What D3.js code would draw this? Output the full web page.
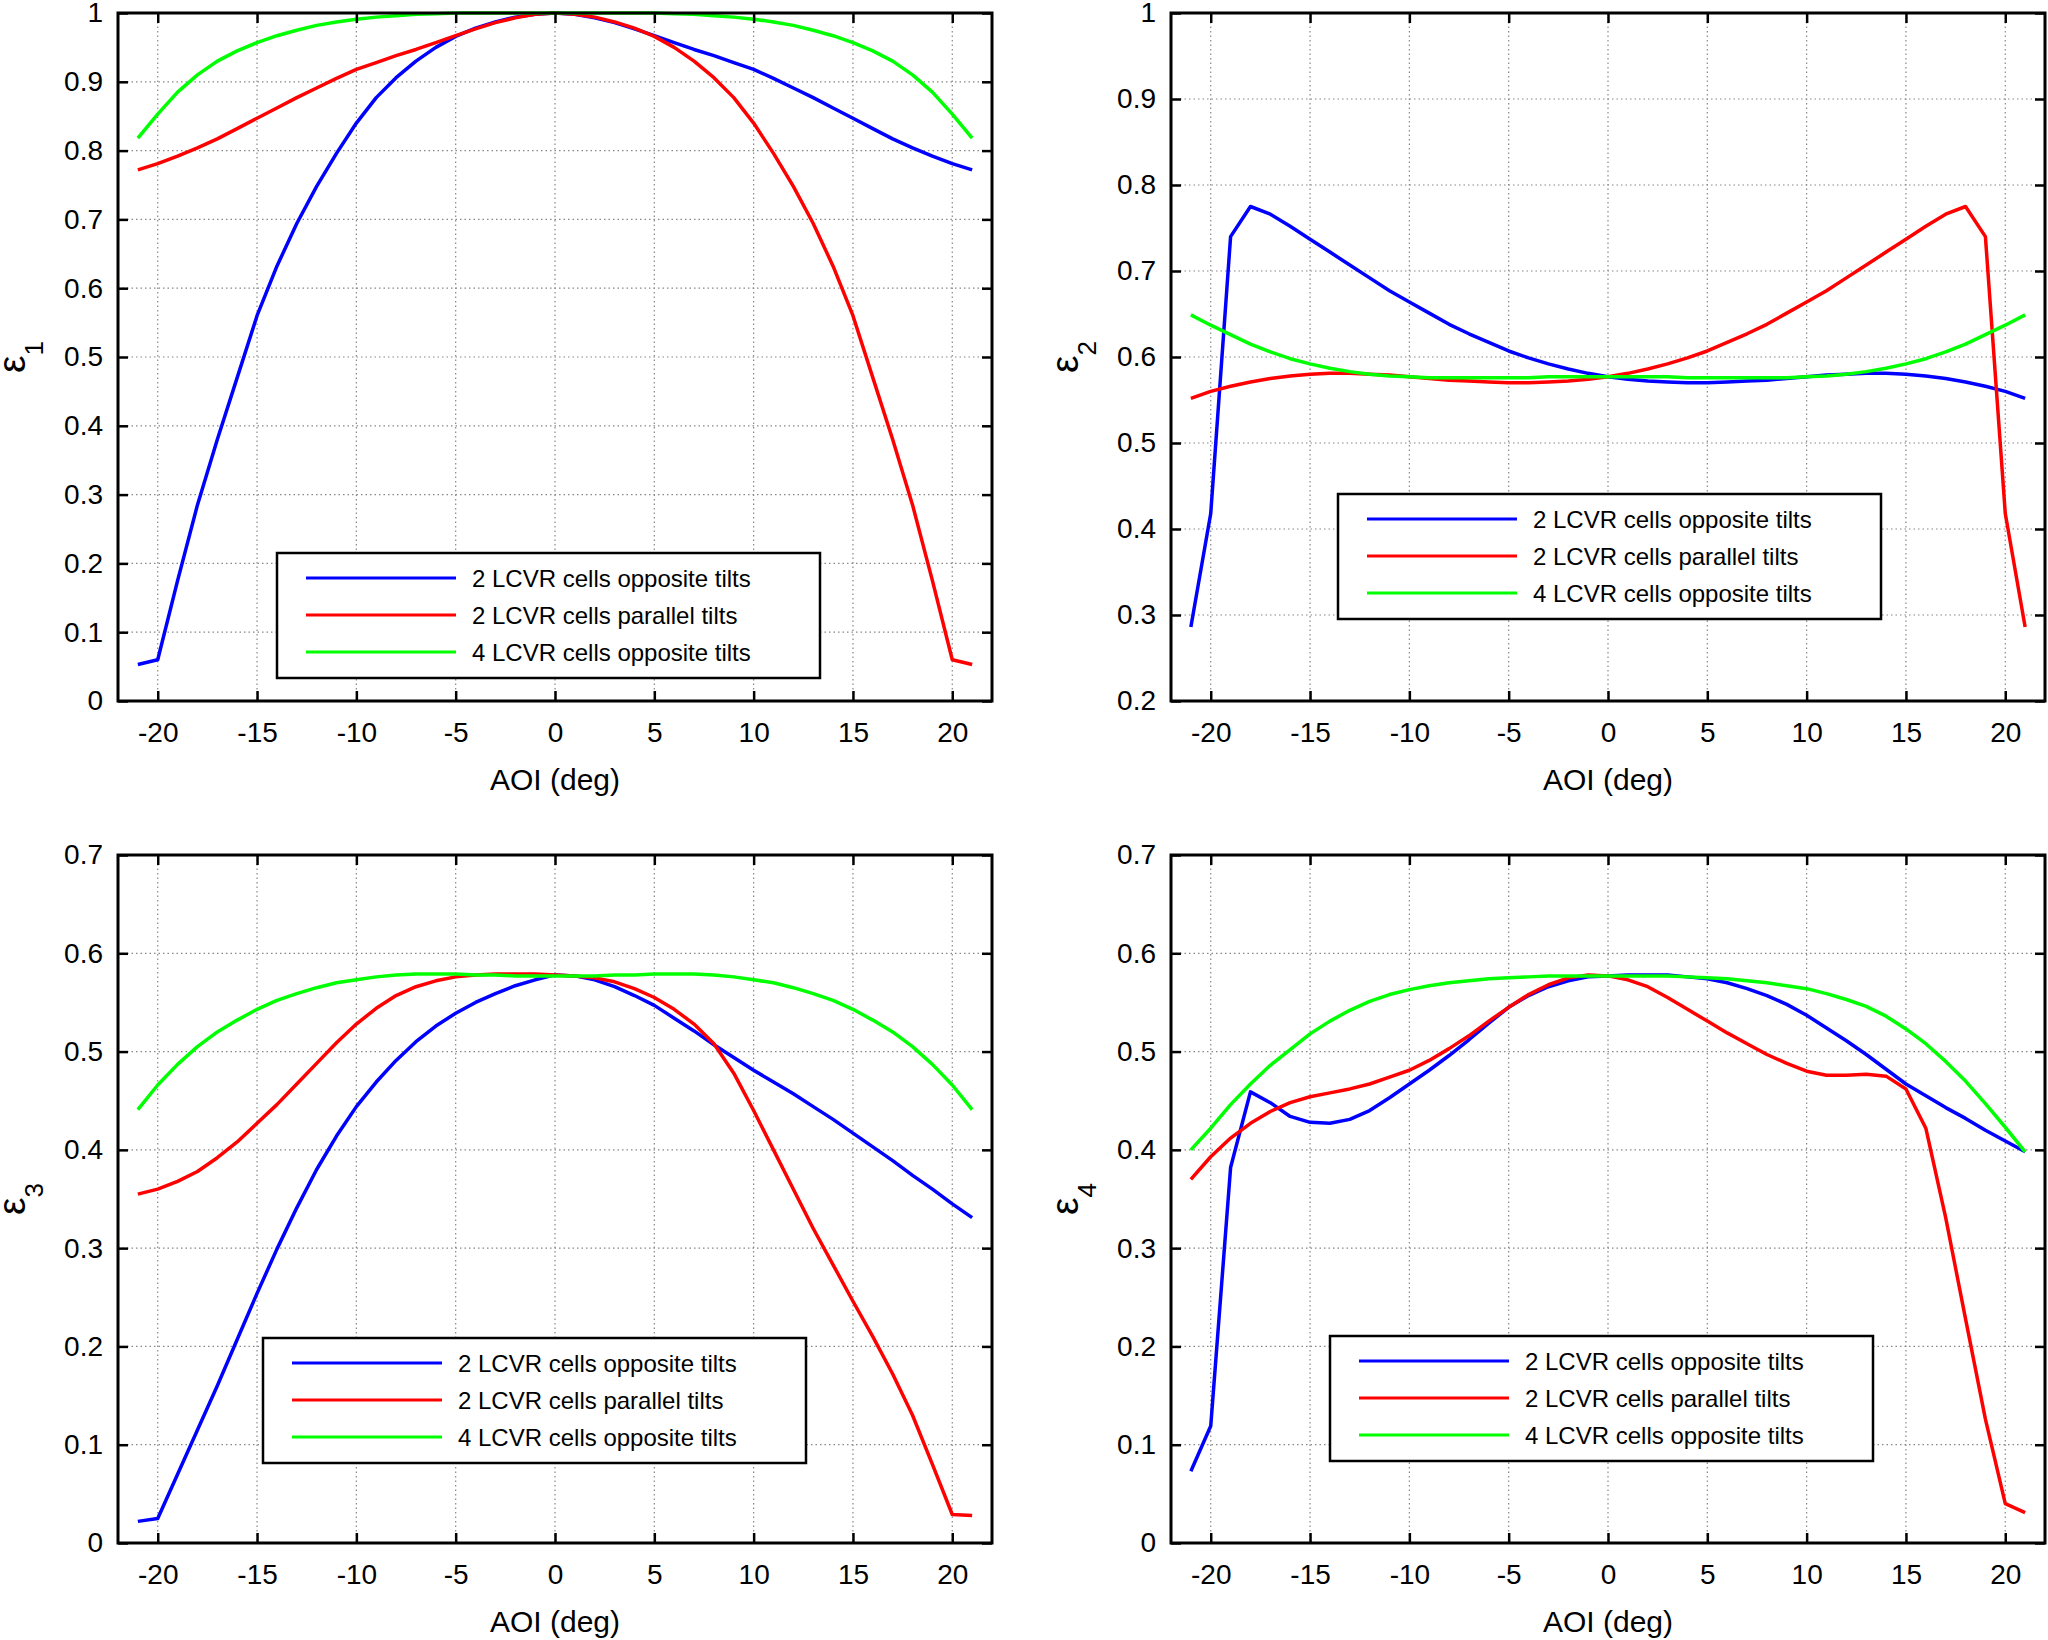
<!DOCTYPE html>
<html lang="en">
<head>
    <meta charset="UTF-8">
    <title>LCVR efficiencies vs AOI</title>
    <script src="https://d3js.org/d3.v7.min.js"></script>
    <style>
        body { margin: 0; background: #fff; }
        svg { display: block; font-family: "Liberation Sans", Arial, sans-serif; }
    </style>
</head>
<body>
<svg id="chart"></svg>
<script>
    const width = 2048;
    const height = 1640;

    // angle of incidence, deg
    const aoi = [-21, -20, -19, -18, -17, -16, -15, -14, -13, -12, -11, -10, -9, -8, -7, -6, -5, -4, -3, -2, -1,
        0, 1, 2, 3, 4, 5, 6, 7, 8, 9, 10, 11, 12, 13, 14, 15, 16, 17, 18, 19, 20, 21];
    const xTicks = [-20, -15, -10, -5, 0, 5, 10, 15, 20];
    const yTicks1 = [0, 0.1, 0.2, 0.3, 0.4, 0.5, 0.6, 0.7, 0.8, 0.9, 1];
    const yTicks2 = [0.2, 0.3, 0.4, 0.5, 0.6, 0.7, 0.8, 0.9, 1];
    const yTicks34 = [0, 0.1, 0.2, 0.3, 0.4, 0.5, 0.6, 0.7];
    const seriesNames = ["2 LCVR cells opposite tilts", "2 LCVR cells parallel tilts", "4 LCVR cells opposite tilts"];
    const seriesColors = ["#0000ff", "#ff0000", "#00ff00"];

    // epsilon 1
    const e1Opp = [0.053, 0.060, 0.175, 0.285, 0.380, 0.470, 0.560, 0.632, 0.694, 0.748, 0.796, 0.840, 0.877, 0.906, 0.930, 0.950, 0.966, 0.978, 0.987, 0.994, 0.998,
        1.000, 0.998, 0.993, 0.986, 0.977, 0.967, 0.957, 0.947, 0.938, 0.928, 0.918, 0.905, 0.891, 0.877, 0.862, 0.847, 0.832, 0.817, 0.804, 0.792, 0.781, 0.772];
    const e1Par = [0.772, 0.781, 0.792, 0.804, 0.817, 0.832, 0.847, 0.862, 0.877, 0.891, 0.905, 0.918, 0.928, 0.938, 0.947, 0.957, 0.967, 0.977, 0.986, 0.993, 0.998,
        1.000, 0.998, 0.994, 0.987, 0.978, 0.966, 0.950, 0.930, 0.906, 0.877, 0.840, 0.796, 0.748, 0.694, 0.632, 0.560, 0.470, 0.380, 0.285, 0.175, 0.060, 0.053];
    const e1Four = [0.818, 0.853, 0.885, 0.910, 0.930, 0.945, 0.957, 0.967, 0.975, 0.982, 0.987, 0.991, 0.994, 0.996, 0.998, 0.999, 1.000, 1.000, 1.000, 1.000, 1.000,
        1.000, 1.000, 1.000, 1.000, 1.000, 1.000, 0.999, 0.998, 0.996, 0.994, 0.991, 0.987, 0.982, 0.975, 0.967, 0.957, 0.945, 0.930, 0.910, 0.885, 0.853, 0.818];

    // epsilon 2
    const e2Opp = [0.286, 0.418, 0.740, 0.775, 0.766, 0.752, 0.737, 0.722, 0.707, 0.692, 0.677, 0.664, 0.651, 0.638, 0.627, 0.617, 0.607, 0.599, 0.592, 0.586, 0.581,
        0.577, 0.574, 0.572, 0.571, 0.570, 0.570, 0.571, 0.572, 0.573, 0.575, 0.577, 0.579, 0.580, 0.581, 0.581, 0.580, 0.578, 0.575, 0.571, 0.566, 0.560, 0.552];
    const e2Par = [0.552, 0.560, 0.566, 0.571, 0.575, 0.578, 0.580, 0.581, 0.581, 0.580, 0.579, 0.577, 0.575, 0.573, 0.572, 0.571, 0.570, 0.570, 0.571, 0.572, 0.574,
        0.577, 0.581, 0.586, 0.592, 0.599, 0.607, 0.617, 0.627, 0.638, 0.651, 0.664, 0.677, 0.692, 0.707, 0.722, 0.737, 0.752, 0.766, 0.775, 0.740, 0.418, 0.286];
    const e2Four = [0.649, 0.637, 0.626, 0.615, 0.606, 0.598, 0.592, 0.587, 0.583, 0.580, 0.578, 0.577, 0.576, 0.576, 0.576, 0.576, 0.576, 0.576, 0.577, 0.577, 0.577,
        0.577, 0.577, 0.577, 0.577, 0.576, 0.576, 0.576, 0.576, 0.576, 0.576, 0.577, 0.578, 0.580, 0.583, 0.587, 0.592, 0.598, 0.606, 0.615, 0.626, 0.637, 0.649];

    // epsilon 3
    const e3Opp = [0.022, 0.025, 0.070, 0.115, 0.160, 0.207, 0.254, 0.299, 0.341, 0.380, 0.414, 0.444, 0.469, 0.491, 0.510, 0.526, 0.539, 0.550, 0.559, 0.567, 0.573,
        0.578, 0.577, 0.573, 0.566, 0.557, 0.547, 0.534, 0.521, 0.507, 0.494, 0.481, 0.469, 0.457, 0.444, 0.431, 0.417, 0.403, 0.389, 0.374, 0.360, 0.345, 0.331];
    const e3Par = [0.355, 0.360, 0.368, 0.378, 0.392, 0.408, 0.427, 0.446, 0.467, 0.488, 0.509, 0.528, 0.544, 0.557, 0.566, 0.572, 0.576, 0.578, 0.579, 0.579, 0.579,
        0.578, 0.577, 0.575, 0.571, 0.564, 0.555, 0.543, 0.528, 0.508, 0.478, 0.440, 0.400, 0.360, 0.320, 0.283, 0.246, 0.210, 0.172, 0.130, 0.080, 0.029, 0.028];
    const e3Four = [0.441, 0.466, 0.487, 0.505, 0.520, 0.532, 0.543, 0.552, 0.559, 0.565, 0.570, 0.573, 0.576, 0.578, 0.579, 0.579, 0.579, 0.578, 0.578, 0.577, 0.577,
        0.577, 0.577, 0.577, 0.578, 0.578, 0.579, 0.579, 0.579, 0.578, 0.576, 0.573, 0.570, 0.565, 0.559, 0.552, 0.543, 0.532, 0.520, 0.505, 0.487, 0.466, 0.441];

    // epsilon 4
    const e4Opp = [0.073, 0.119, 0.382, 0.459, 0.448, 0.434, 0.428, 0.427, 0.431, 0.440, 0.453, 0.467, 0.481, 0.496, 0.512, 0.529, 0.545, 0.557, 0.566, 0.572, 0.576,
        0.577, 0.578, 0.578, 0.578, 0.576, 0.574, 0.570, 0.564, 0.557, 0.548, 0.537, 0.524, 0.511, 0.497, 0.482, 0.467, 0.455, 0.443, 0.432, 0.420, 0.409, 0.398];
    const e4Par = [0.370, 0.393, 0.412, 0.427, 0.439, 0.448, 0.454, 0.458, 0.462, 0.467, 0.474, 0.481, 0.491, 0.503, 0.516, 0.531, 0.545, 0.558, 0.568, 0.575, 0.578,
        0.577, 0.573, 0.566, 0.555, 0.543, 0.531, 0.519, 0.508, 0.497, 0.488, 0.480, 0.476, 0.476, 0.477, 0.475, 0.462, 0.422, 0.331, 0.228, 0.126, 0.040, 0.031];
    const e4Four = [0.400, 0.422, 0.446, 0.467, 0.486, 0.502, 0.518, 0.531, 0.542, 0.551, 0.558, 0.563, 0.567, 0.570, 0.572, 0.574, 0.575, 0.576, 0.577, 0.577, 0.577,
        0.577, 0.577, 0.577, 0.577, 0.576, 0.575, 0.574, 0.572, 0.570, 0.567, 0.564, 0.559, 0.553, 0.546, 0.536, 0.523, 0.508, 0.490, 0.470, 0.447, 0.423, 0.398];

    const pw = 874, ph = 688;
    const panels = [
        {left: 118, top: 13, sub: "1", yTicks: yTicks1, series: [e1Opp, e1Par, e1Four], leg: [159, 540]},
        {left: 1171, top: 13, sub: "2", yTicks: yTicks2, series: [e2Opp, e2Par, e2Four], leg: [167, 481]},
        {left: 118, top: 855, sub: "3", yTicks: yTicks34, series: [e3Opp, e3Par, e3Four], leg: [145, 483]},
        {left: 1171, top: 855, sub: "4", yTicks: yTicks34, series: [e4Opp, e4Par, e4Four], leg: [159, 481]}
    ];

    const svg = d3.select("#chart")
        .attr("width", width)
        .attr("height", height)
        .attr("viewBox", [0, 0, width, height]);

    panels.forEach(p => {
        const x = d3.scaleLinear().domain([-22, 22]).range([0, pw]);
        const y = d3.scaleLinear().domain(d3.extent(p.yTicks)).range([ph, 0]);
        const fmt = d => String(+d.toFixed(1));

        const g = svg.append("g").attr("transform", `translate(${p.left},${p.top})`);

        // dotted grid
        g.append("g")
            .selectAll("line")
            .data(xTicks)
            .join("line")
            .attr("x1", d => x(d)).attr("x2", d => x(d))
            .attr("y1", 0).attr("y2", ph)
            .attr("stroke", "#888").attr("stroke-width", 1.2).attr("stroke-dasharray", "1.5,3");
        g.append("g")
            .selectAll("line")
            .data(p.yTicks)
            .join("line")
            .attr("x1", 0).attr("x2", pw)
            .attr("y1", d => y(d)).attr("y2", d => y(d))
            .attr("stroke", "#888").attr("stroke-width", 1.2).attr("stroke-dasharray", "1.5,3");

        // curves
        const line = d3.line()
            .x((d, i) => x(aoi[i]))
            .y(d => y(d));
        g.append("g")
            .attr("fill", "none")
            .attr("stroke-width", 3.5)
            .attr("stroke-linejoin", "round")
            .selectAll("path")
            .data(p.series)
            .join("path")
            .attr("stroke", (d, i) => seriesColors[i])
            .attr("d", d => line(d));

        // axes: ticks pointing inward on all four sides
        const styleAxis = a => {
            a.select(".domain").remove();
            a.selectAll(".tick line").attr("stroke", "#000").attr("stroke-width", 2.5);
            a.selectAll(".tick text").attr("fill", "#000").attr("font-size", 28)
                .attr("font-family", "'Liberation Sans', Arial, sans-serif");
        };
        g.append("g")
            .attr("transform", `translate(0,${ph})`)
            .call(d3.axisBottom(x).tickValues(xTicks).tickFormat(d => String(d)).tickSize(-10).tickPadding(21).tickSizeOuter(0))
            .call(styleAxis);
        g.append("g")
            .call(d3.axisTop(x).tickValues(xTicks).tickFormat("").tickSize(-10).tickSizeOuter(0))
            .call(styleAxis);
        g.append("g")
            .call(d3.axisLeft(y).tickValues(p.yTicks).tickFormat(fmt).tickSize(-10).tickPadding(15).tickSizeOuter(0))
            .call(styleAxis);
        g.append("g")
            .attr("transform", `translate(${pw},0)`)
            .call(d3.axisRight(y).tickValues(p.yTicks).tickFormat("").tickSize(-10).tickSizeOuter(0))
            .call(styleAxis);

        // frame
        g.append("rect")
            .attr("width", pw).attr("height", ph)
            .attr("fill", "none").attr("stroke", "#000").attr("stroke-width", 3);

        // axis titles
        g.append("text")
            .attr("x", pw / 2).attr("y", ph + 89)
            .attr("text-anchor", "middle")
            .attr("font-size", 30)
            .text("AOI (deg)");
        const yl = g.append("text")
            .attr("transform", `translate(-93,${ph / 2}) rotate(-90)`)
            .attr("text-anchor", "middle")
            .attr("font-size", 39);
        yl.append("tspan").text("ε");
        yl.append("tspan").attr("font-size", 26).attr("dy", 18).text(p.sub);

        // legend
        const lg = g.append("g").attr("transform", `translate(${p.leg[0]},${p.leg[1]})`);
        lg.append("rect")
            .attr("width", 543).attr("height", 125)
            .attr("fill", "#fff").attr("stroke", "#000").attr("stroke-width", 2.5);
        const rows = lg.selectAll("g.row")
            .data(seriesNames)
            .join("g")
            .attr("class", "row")
            .attr("transform", (d, i) => `translate(0,${25 + i * 37})`);
        rows.append("line")
            .attr("x1", 29).attr("x2", 179)
            .attr("stroke", (d, i) => seriesColors[i])
            .attr("stroke-width", 3);
        rows.append("text")
            .attr("x", 195).attr("y", 9)
            .attr("font-size", 24)
            .text(d => d);
    });
</script>
</body>
</html>
